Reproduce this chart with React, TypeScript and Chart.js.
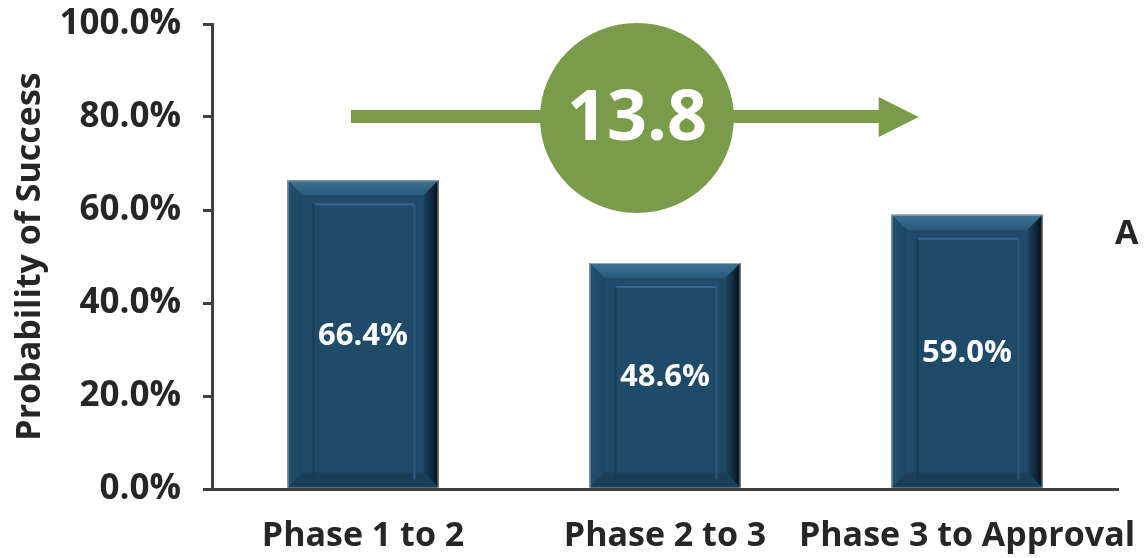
import React, { useEffect, useRef } from 'react';
import { Chart, registerables } from 'chart.js';

Chart.register(...registerables);

const categories = ['Phase 1 to 2', 'Phase 2 to 3', 'Phase 3 to Approval'];
const successRates = [66.4, 48.6, 59.0];
const yTickStep = 20;
const yMin = 0;
const yMax = 100;
const yTitle = 'Probability of Success';
const calloutValue = '13.8';
const calloutArrowY = 80;
const calloutArrowStart = -0.04;
const calloutArrowEnd = 1.84;
const calloutCircleX = 0.907;
const sideLabel = 'A';

const FONT = '"Open Sans", Lato, sans-serif';
const TEXT = '#262626';
const AXIS = '#404040';
const GREEN = '#7A9C4A';
const FACE = '#1F4B69';

const bevelPlugin = {
  id: 'bevelBars',
  afterDatasetsDraw(chart: any) {
    const ctx = chart.ctx as CanvasRenderingContext2D;
    const meta = chart.getDatasetMeta(0);
    meta.data.forEach((bar: any, i: number) => {
      const w = bar.width;
      const L = bar.x - w / 2;
      const R = bar.x + w / 2;
      const T = bar.y;
      const B = bar.base;
      const b = 15;
      ctx.save();
      let g = ctx.createLinearGradient(0, T, 0, T + b);
      g.addColorStop(0, '#3F7394');
      g.addColorStop(1, '#26597B');
      ctx.fillStyle = g;
      ctx.beginPath();
      ctx.moveTo(L, T); ctx.lineTo(R, T); ctx.lineTo(R - b, T + b); ctx.lineTo(L + b, T + b); ctx.closePath();
      ctx.fill();
      g = ctx.createLinearGradient(L, 0, L + b, 0);
      g.addColorStop(0, '#22506F');
      g.addColorStop(1, '#1C4663');
      ctx.fillStyle = g;
      ctx.beginPath();
      ctx.moveTo(L, T); ctx.lineTo(L + b, T + b); ctx.lineTo(L + b, B - b); ctx.lineTo(L, B); ctx.closePath();
      ctx.fill();
      ctx.fillStyle = '#1A4059';
      ctx.beginPath();
      ctx.moveTo(L, B); ctx.lineTo(L + b, B - b); ctx.lineTo(R - b, B - b); ctx.lineTo(R, B); ctx.closePath();
      ctx.fill();
      g = ctx.createLinearGradient(R - b, 0, R, 0);
      g.addColorStop(0, '#1B4460');
      g.addColorStop(0.6, '#0E2536');
      g.addColorStop(1, '#040B11');
      ctx.fillStyle = g;
      ctx.beginPath();
      ctx.moveTo(R, T); ctx.lineTo(R, B); ctx.lineTo(R - b, B - b); ctx.lineTo(R - b, T + b); ctx.closePath();
      ctx.fill();
      const iL = L + 26, iR = R - 24, iT = T + 24, iB = B - 8;
      ctx.lineWidth = 2;
      ctx.strokeStyle = '#36688A';
      ctx.beginPath(); ctx.moveTo(iL, iT); ctx.lineTo(iR, iT); ctx.stroke();
      ctx.strokeStyle = '#173C55';
      ctx.beginPath(); ctx.moveTo(iL, iT); ctx.lineTo(iL, iB); ctx.stroke();
      ctx.strokeStyle = '#2B5B7B';
      ctx.beginPath(); ctx.moveTo(iR, iT); ctx.lineTo(iR, iB); ctx.stroke();
      ctx.lineWidth = 1;
      ctx.strokeStyle = '#9AA6B0';
      ctx.beginPath(); ctx.moveTo(L + 0.5, B); ctx.lineTo(L + 0.5, T + 0.5); ctx.lineTo(R - 0.5, T + 0.5); ctx.stroke();
      ctx.strokeStyle = '#8A949C';
      ctx.beginPath(); ctx.moveTo(R - 0.5, T + 0.5); ctx.lineTo(R - 0.5, B); ctx.stroke();
      ctx.fillStyle = '#FFFFFF';
      ctx.font = `700 31px ${FONT}`;
      ctx.textAlign = 'center';
      ctx.textBaseline = 'middle';
      ctx.fillText(successRates[i].toFixed(1) + '%', bar.x, (T + B) / 2 + 2);
      ctx.restore();
    });

    const xs = chart.scales.x;
    const ys = chart.scales.y;
    const ay = ys.getPixelForValue(calloutArrowY);
    const x0 = xs.getPixelForValue(calloutArrowStart);
    const x1 = xs.getPixelForValue(calloutArrowEnd);
    const cx = xs.getPixelForValue(calloutCircleX);
    ctx.save();
    ctx.fillStyle = GREEN;
    ctx.fillRect(x0, ay - 7, x1 - 38 - x0, 13);
    ctx.beginPath();
    ctx.moveTo(x1 - 40, ay - 20);
    ctx.lineTo(x1, ay);
    ctx.lineTo(x1 - 40, ay + 20);
    ctx.closePath();
    ctx.fill();
    ctx.beginPath();
    ctx.ellipse(cx, ay + 1, 97, 95, 0, 0, Math.PI * 2);
    ctx.fill();
    ctx.fillStyle = '#FFFFFF';
    ctx.font = `700 70px ${FONT}`;
    ctx.textAlign = 'center';
    ctx.textBaseline = 'middle';
    ctx.fillText(calloutValue, cx, ay + 3);
    ctx.fillStyle = TEXT;
    ctx.font = `700 34px ${FONT}`;
    ctx.textAlign = 'left';
    ctx.fillText(sideLabel, 1115, 234);
    ctx.restore();
  },
};

export default function App() {
  const ref = useRef<HTMLCanvasElement>(null);
  useEffect(() => {
    if (!ref.current) return;
    const chart = new Chart(ref.current, {
      type: 'bar',
      data: {
        labels: categories,
        datasets: [
          {
            data: successRates,
            backgroundColor: FACE,
            borderWidth: 0,
            barPercentage: 0.5,
            categoryPercentage: 1.0,
          },
        ],
      },
      plugins: [bevelPlugin],
      options: {
        animation: false,
        responsive: true,
        maintainAspectRatio: false,
        layout: { padding: { top: 24, right: 27, left: 0, bottom: 0 } },
        plugins: { legend: { display: false }, tooltip: { enabled: false } },
        scales: {
          x: {
            grid: { display: false, drawTicks: false },
            border: { display: true, color: AXIS, width: 3 },
            ticks: {
              color: TEXT,
              font: { family: FONT, size: 34, weight: 'bold' },
              padding: 27,
              maxRotation: 0,
              autoSkip: false,
            },
            afterFit: (s: any) => { s.height = 69; s.paddingLeft = 0; s.paddingRight = 0; },
          },
          y: {
            min: yMin,
            max: yMax,
            grid: { drawOnChartArea: false, drawTicks: true, tickLength: 9, color: AXIS, lineWidth: 3 },
            border: { display: true, color: AXIS, width: 3 },
            ticks: {
              stepSize: yTickStep,
              color: TEXT,
              font: { family: FONT, size: 35, weight: 'bold' },
              padding: 22,
              callback: (v: any) => Number(v).toFixed(1) + '%',
            },
            title: {
              display: true,
              text: yTitle,
              color: TEXT,
              font: { family: FONT, size: 34, weight: 'bold' },
              padding: { top: 10, bottom: 0 },
            },
            afterFit: (s: any) => { s.width = 212; s.paddingTop = 0; s.paddingBottom = 0; },
          },
        },
      },
    });
    return () => chart.destroy();
  }, []);
  return (
    <div style={{ position: 'fixed', left: 0, top: 0, width: 1145, height: 558, background: '#fff' }}>
      <canvas ref={ref} />
    </div>
  );
}
